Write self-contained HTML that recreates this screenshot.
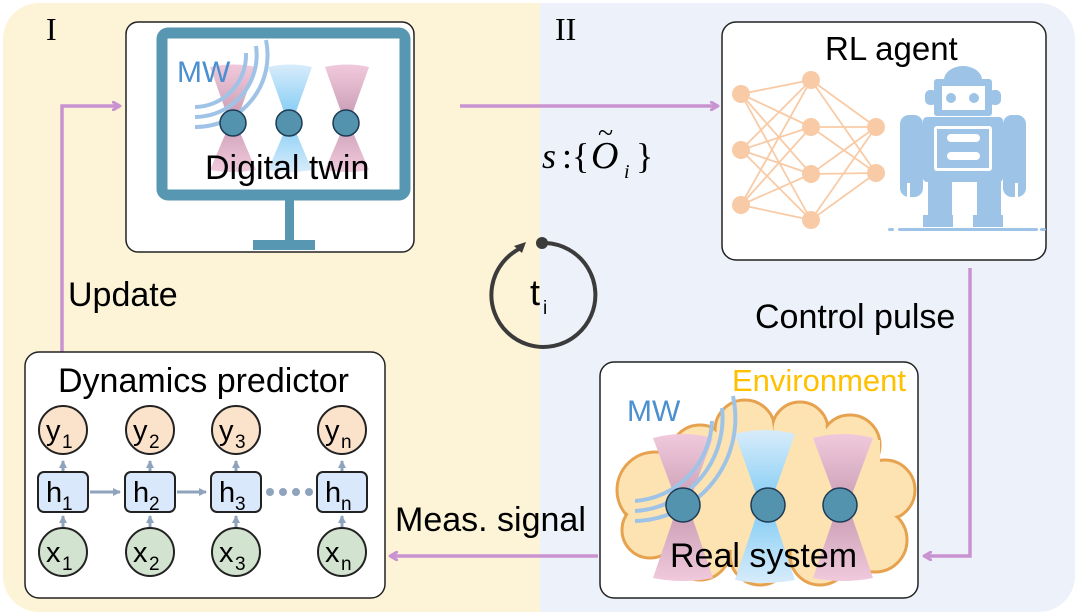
<!DOCTYPE html>
<html><head><meta charset="utf-8"><style>
html,body{margin:0;padding:0;background:#fff;}
svg{display:block;}
.s{font-family:"Liberation Sans",sans-serif;}
.r{font-family:"Liberation Serif",serif;}
</style></head><body>
<svg width="1080" height="616" viewBox="0 0 1080 616" xmlns="http://www.w3.org/2000/svg">
<defs>
<linearGradient id="pk" x1="0" y1="0" x2="0" y2="1">
<stop offset="0" stop-color="#f1c9dc"/><stop offset="0.5" stop-color="#c89cb3"/><stop offset="1" stop-color="#f1c9dc"/></linearGradient>
<linearGradient id="bl" x1="0" y1="0" x2="0" y2="1">
<stop offset="0" stop-color="#d8ecfb"/><stop offset="0.5" stop-color="#7fcbf4"/><stop offset="1" stop-color="#d8ecfb"/></linearGradient>
<clipPath id="outer"><rect x="3" y="3" width="1072" height="609" rx="36"/></clipPath>
<clipPath id="rs"><rect x="601" y="363" width="316" height="234" rx="13"/></clipPath>
<marker id="ar" markerWidth="10" markerHeight="10" refX="8" refY="5" orient="auto" markerUnits="userSpaceOnUse"><path d="M1,1 L8,5 L1,9" fill="none" stroke="#c993d2" stroke-width="3" stroke-linecap="round" stroke-linejoin="round"/></marker>
<marker id="ga" markerWidth="10" markerHeight="10" refX="7" refY="5" orient="auto" markerUnits="userSpaceOnUse"><path d="M0,1 L8,5 L0,9Z" fill="#8fa3bd"/></marker>
</defs>
<g clip-path="url(#outer)">
<rect x="0" y="0" width="540" height="616" fill="#fdf3d7"/>
<rect x="540" y="0" width="540" height="616" fill="#edf2fa"/>
</g>
<g class="s">
<text x="46" y="40" class="r" font-size="32">I</text>
<text x="555" y="40" class="r" font-size="32">II</text>

<g fill="none" stroke="#c993d2" stroke-width="3.5">
<path d="M460,106 H718" marker-end="url(#ar)"/>
<path d="M62,352 V106 H120" marker-end="url(#ar)"/>
<path d="M970,268 V556 H924" marker-end="url(#ar)"/>
<path d="M598,556 H390" marker-end="url(#ar)"/>
</g>
<text x="68" y="306" font-size="34">Update</text>
<text x="755" y="328" font-size="34">Control pulse</text>
<text x="395" y="531" font-size="34">Meas. signal</text>
<g class="r">
<text x="542" y="168" font-size="36" font-style="italic">s</text>
<text x="562" y="168" font-size="36">:{</text>
<text x="591" y="168" font-size="38" font-style="italic">O</text>
<text x="598" y="142" font-size="28">~</text>
<text x="624" y="178" font-size="20" font-style="italic">i</text>
<text x="636" y="168" font-size="36">}</text>
</g>

<path d="M546,243 A52,52 0 1 1 521,248" fill="none" stroke="#3b3b3b" stroke-width="4"/>
<path d="M514,246 L526,242 L522,253Z" fill="#3b3b3b"/>
<circle cx="542" cy="243" r="6" fill="#3b3b3b"/>
<text x="530" y="305" font-size="36">t</text><text x="543" y="314" font-size="19">i</text>

<rect x="126" y="22" width="288" height="230" rx="12" fill="#fff" stroke="#222" stroke-width="1.5"/>
<rect x="162" y="33" width="243" height="162" rx="6" fill="#fff" stroke="#5797b2" stroke-width="11"/>
<rect x="285" y="200" width="9" height="42" fill="#5797b2"/>
<rect x="253" y="240" width="62" height="10" fill="#5797b2"/>
<path d="M210,67 Q233,62 256,67 L236,123 L256,170 Q233,174 210,170 L230,123Z" fill="url(#pk)"/>
<path d="M268,67 Q290,62 312,67 L292,123 L312,170 Q290,174 268,170 L288,123Z" fill="url(#bl)"/>
<path d="M325,67 Q347,62 369,67 L349,123 L369,170 Q347,174 325,170 L345,123Z" fill="url(#pk)"/>
<text x="177" y="82" font-size="30" fill="#4a90d0">MW</text>
<g fill="none" stroke="#9fc3e6" stroke-width="4">
<path d="M195,107 A52,52 0 0 0 246,53"/>
<path d="M195,117 A62,62 0 0 0 256,46"/>
<path d="M195,127 A72,72 0 0 0 266,40"/>
</g>
<g fill="#5493ae" stroke="#1e3b55" stroke-width="1.5">
<circle cx="233" cy="123" r="13"/><circle cx="289" cy="123" r="13"/><circle cx="346" cy="123" r="13"/>
</g>
<text x="205" y="179" font-size="34">Digital twin</text>

<rect x="722" y="22" width="324" height="238" rx="14" fill="#fff" stroke="#222" stroke-width="1.5"/>
<text x="825" y="60" font-size="33">RL agent</text>
<g stroke="#f8cba6" stroke-width="1.8">
<path d="M741,94 L811,80 M741,94 L811,127 M741,94 L811,174 M741,94 L811,220 M741,150 L811,80 M741,150 L811,127 M741,150 L811,174 M741,150 L811,220 M741,205 L811,80 M741,205 L811,127 M741,205 L811,174 M741,205 L811,220 M811,80 L876,127 M811,80 L876,173 M811,127 L876,127 M811,127 L876,173 M811,174 L876,127 M811,174 L876,173 M811,220 L876,127 M811,220 L876,173"/>
</g>
<g fill="#f8cba6">
<circle cx="741" cy="94" r="9"/><circle cx="741" cy="150" r="9"/><circle cx="741" cy="205" r="9"/>
<circle cx="811" cy="80" r="9"/><circle cx="811" cy="127" r="9"/><circle cx="811" cy="174" r="9"/><circle cx="811" cy="220" r="9"/>
<circle cx="876" cy="127" r="9"/><circle cx="876" cy="173" r="9"/>
</g>
<g fill="#9dc3e6">
<path d="M944,80 A19,14 0 0 1 982,80Z"/>
<rect x="934" y="79" width="58" height="37" rx="3"/>
<rect x="925" y="90" width="12" height="15" rx="5"/><rect x="989" y="90" width="12" height="15" rx="5"/>
<rect x="923" y="117" width="80" height="65" rx="4"/>
<rect x="900" y="115" width="23" height="82" rx="9"/><rect x="1003" y="115" width="23" height="82" rx="9"/>
<rect x="928" y="180" width="24" height="36"/><rect x="977" y="180" width="24" height="36"/>
<rect x="923" y="215" width="30" height="12"/><rect x="973" y="215" width="30" height="12"/>
<rect x="898" y="228" width="140" height="3" rx="1.5"/>
<rect x="888" y="228" width="6" height="3" rx="1.5"/><rect x="1040" y="228" width="6" height="3" rx="1.5"/>
</g>
<g fill="#fff">
<rect x="942" y="86" width="43" height="24"/>
<rect x="934" y="126" width="58" height="45" rx="3"/>
<rect x="907" y="183" width="3" height="14"/><rect x="1015" y="183" width="3" height="14"/>
</g>
<rect x="937" y="129" width="52" height="39" fill="#9dc3e6"/>
<g fill="#fff"><rect x="947" y="134" width="33" height="8" rx="4"/><rect x="947" y="152" width="33" height="8" rx="4"/></g>
<g fill="#9dc3e6"><circle cx="951" cy="98" r="5"/><circle cx="974" cy="98" r="5"/></g>

<rect x="600" y="362" width="318" height="236" rx="14" fill="#fff" stroke="#222" stroke-width="1.5"/>
<g clip-path="url(#rs)">
<g fill="#fde3b2" stroke="#e6a24f" stroke-width="3">
<circle cx="655" cy="490" r="38"/><circle cx="700" cy="455" r="30"/><circle cx="745" cy="430" r="30"/><circle cx="800" cy="430" r="28"/><circle cx="850" cy="445" r="30"/><circle cx="885" cy="490" r="30"/><circle cx="875" cy="540" r="32"/><circle cx="820" cy="555" r="30"/><circle cx="760" cy="555" r="30"/><circle cx="700" cy="550" r="30"/><circle cx="650" cy="530" r="28"/>
</g>
<g fill="#fde3b2">
<circle cx="655" cy="490" r="36"/><circle cx="700" cy="455" r="28"/><circle cx="745" cy="430" r="28"/><circle cx="800" cy="430" r="26"/><circle cx="850" cy="445" r="28"/><circle cx="885" cy="490" r="28"/><circle cx="875" cy="540" r="30"/><circle cx="820" cy="555" r="28"/><circle cx="760" cy="555" r="28"/><circle cx="700" cy="550" r="28"/><circle cx="650" cy="530" r="26"/>
<rect x="660" y="440" width="220" height="110"/>
</g>
<path d="M653,438 Q683,430 713,438 L688,505 L713,578 Q683,584 653,578 L678,505Z" fill="url(#pk)"/>
<path d="M735,434 Q765,426 795,434 L770,505 L795,580 Q765,586 735,580 L760,505Z" fill="url(#bl)"/>
<path d="M813,438 Q843,430 873,438 L848,505 L873,578 Q843,584 813,578 L838,505Z" fill="url(#pk)"/>
</g>
<text x="732" y="391" font-size="31" fill="#ffc000">Environment</text>
<text x="627" y="421" font-size="30" fill="#4a90d0">MW</text>
<g fill="none" stroke="#9fc3e6" stroke-width="4">
<path d="M635,501 A83,83 0 0 0 712,421"/>
<path d="M635,511 A93,93 0 0 0 722,408"/>
<path d="M635,521 A103,103 0 0 0 733,396"/>
</g>
<g fill="#5493ae" stroke="#1e3b55" stroke-width="1.5">
<circle cx="683" cy="505" r="17"/><circle cx="768" cy="505" r="17"/><circle cx="840" cy="505" r="17"/>
</g>
<text x="670" y="567" font-size="34">Real system</text>

<rect x="25" y="352" width="360" height="246" rx="14" fill="#fff" stroke="#222" stroke-width="1.5"/>
<text x="58" y="392" font-size="34">Dynamics predictor</text>
<g stroke="#8fa3bd" stroke-width="3" fill="none">
<path d="M63,471 V461" marker-end="url(#ga)"/><path d="M150,471 V461" marker-end="url(#ga)"/><path d="M236,471 V461" marker-end="url(#ga)"/><path d="M342,471 V461" marker-end="url(#ga)"/>
<path d="M63,528 V516" marker-end="url(#ga)"/><path d="M150,528 V516" marker-end="url(#ga)"/><path d="M236,528 V516" marker-end="url(#ga)"/><path d="M342,528 V516" marker-end="url(#ga)"/>
<path d="M90,492 H120" marker-end="url(#ga)"/><path d="M177,492 H206" marker-end="url(#ga)"/>
</g>
<g fill="#8fa3bd"><circle cx="270" cy="492" r="4"/><circle cx="283" cy="492" r="4"/><circle cx="296" cy="492" r="4"/><circle cx="309" cy="492" r="4"/></g>
<g fill="#fbe3cb" stroke="#222" stroke-width="2">
<circle cx="63" cy="430" r="24"/><circle cx="150" cy="430" r="24"/><circle cx="236" cy="430" r="24"/><circle cx="342" cy="430" r="24"/>
</g>
<g fill="#dae8fb" stroke="#222" stroke-width="2">
<rect x="38" y="472" width="50" height="40" rx="6"/><rect x="125" y="472" width="50" height="40" rx="6"/><rect x="211" y="472" width="50" height="40" rx="6"/><rect x="317" y="472" width="50" height="40" rx="6"/>
</g>
<g fill="#d2e4cf" stroke="#222" stroke-width="2">
<circle cx="63" cy="552" r="24"/><circle cx="150" cy="552" r="24"/><circle cx="236" cy="552" r="24"/><circle cx="342" cy="552" r="24"/>
</g>
<g font-size="29">
<text x="46" y="440">y</text><text x="62" y="448" font-size="19">1</text>
<text x="133" y="440">y</text><text x="149" y="448" font-size="19">2</text>
<text x="219" y="440">y</text><text x="235" y="448" font-size="19">3</text>
<text x="325" y="440">y</text><text x="341" y="448" font-size="19">n</text>
<text x="46" y="502">h</text><text x="62" y="510" font-size="19">1</text>
<text x="133" y="502">h</text><text x="149" y="510" font-size="19">2</text>
<text x="219" y="502">h</text><text x="235" y="510" font-size="19">3</text>
<text x="325" y="502">h</text><text x="341" y="510" font-size="19">n</text>
<text x="46" y="562">x</text><text x="62" y="570" font-size="19">1</text>
<text x="133" y="562">x</text><text x="149" y="570" font-size="19">2</text>
<text x="219" y="562">x</text><text x="235" y="570" font-size="19">3</text>
<text x="325" y="562">x</text><text x="341" y="570" font-size="19">n</text>
</g>
</g>
</svg>
</body></html>
